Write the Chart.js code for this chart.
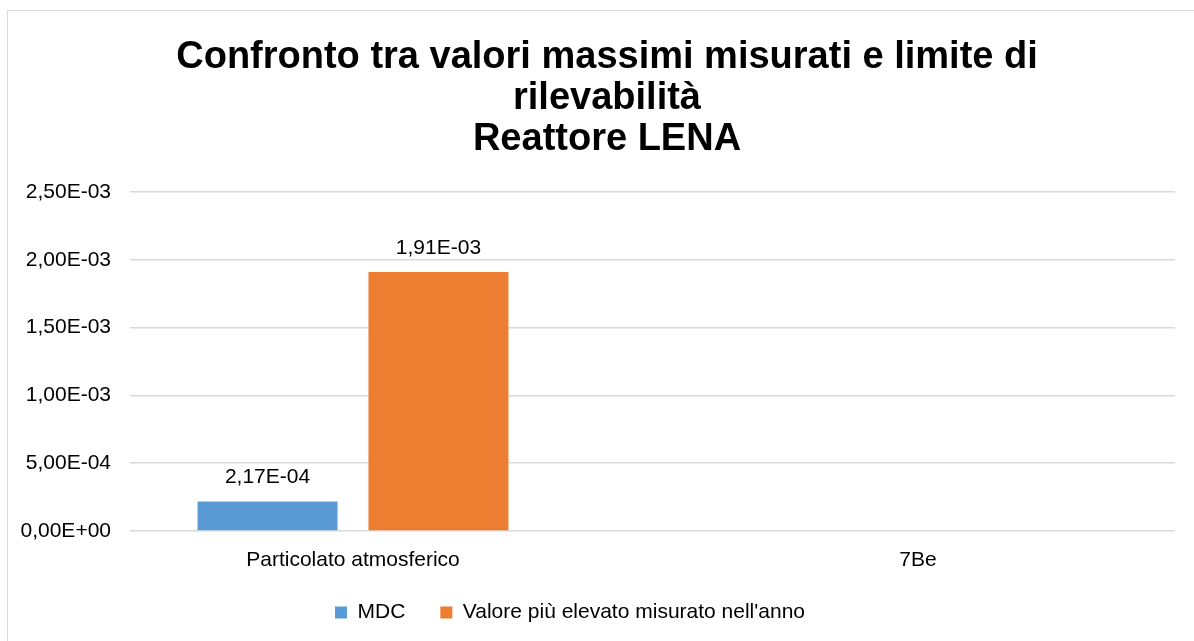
<!DOCTYPE html>
<html>
<head>
<meta charset="utf-8">
<script src="https://cdn.jsdelivr.net/npm/chart.js@4/dist/chart.umd.min.js"></script>
<style>
  html, body { margin: 0; padding: 0; background: #fff; overflow: hidden; }
  #frame { position: absolute; left: 7px; top: 10px; width: 1200px; height: 650px; border: 1px solid #d9d9d9; }
  #wrap { position: absolute; left: 0; top: 0; width: 1186px; height: 630px; }
</style>
</head>
<body>
<div id="frame"><div id="wrap"><canvas id="chart"></canvas></div></div>
<script>
const categories = ['Particolato atmosferico', '7Be'];
const seriesNames = ['MDC', "Valore più elevato misurato nell'anno"];
const mdcValues = [2.17e-4, null];
const maxValues = [1.91e-3, null];
const yTicks = [0, 5e-4, 1e-3, 1.5e-3, 2e-3, 2.5e-3];
const titleLines = ['Confronto tra valori massimi misurati e limite di', 'rilevabilità', 'Reattore LENA'];

const FONT = '"Liberation Sans", Arial, sans-serif';

function fmt(v) {
    const parts = Number(v).toExponential(2).split('e');
    let exp = parseInt(parts[1]);
    const sign = exp < 0 ? '-' : '+';
    exp = Math.abs(exp);
    return parts[0].replace('.', ',') + 'E' + sign + (exp < 10 ? '0' + exp : exp);
}

// title drawn by hand so it can sit a bit right of the legend, like the original
const titlePlugin = {
    id: 'titlePlugin',
    afterDraw(chart) {
        const ctx = chart.ctx;
        ctx.save();
        ctx.font = 'bold 38px ' + FONT;
        ctx.fillStyle = '#000';
        ctx.textAlign = 'center';
        ctx.textBaseline = 'middle';
        titleLines.forEach(function (line, i) {
            ctx.fillText(line, 599, 47 + i * 41);
        });
        ctx.restore();
    }
};

const valueLabels = {
    id: 'valueLabels',
    afterDatasetsDraw(chart) {
        const ctx = chart.ctx;
        ctx.save();
        ctx.font = '21px ' + FONT;
        ctx.fillStyle = '#000';
        ctx.textAlign = 'center';
        ctx.textBaseline = 'middle';
        chart.data.datasets.forEach(function (ds, i) {
            chart.getDatasetMeta(i).data.forEach(function (bar, j) {
                if (ds.data[j].y == null) return;
                ctx.fillText(fmt(ds.data[j].y), bar.x, bar.y - 24);
            });
        });
        ctx.restore();
    }
};

function points(values) {
    return categories.map(function (c, i) { return { x: i, y: values[i] }; });
}

const ctx = document.getElementById('chart').getContext('2d');
const chart = new Chart(ctx, {
    type: 'bar',
    data: {
        datasets: [{
            label: seriesNames[0],
            data: points(mdcValues),
            backgroundColor: '#5b9bd5'
        }, {
            label: seriesNames[1],
            data: points(maxValues),
            backgroundColor: '#ed7d31'
        }]
    },
    options: {
        responsive: true,
        maintainAspectRatio: false,
        animation: false,
        datasets: {
            bar: { categoryPercentage: 0.605, barPercentage: 0.819 }
        },
        layout: { padding: { left: -43, right: 19, top: 181, bottom: 8 } },
        plugins: {
            legend: {
                position: 'bottom',
                labels: {
                    color: '#000',
                    font: { family: FONT, size: 21 },
                    boxWidth: 12,
                    boxHeight: 12,
                    padding: 35
                }
            },
            tooltip: { enabled: false }
        },
        scales: {
            x: {
                type: 'linear',
                offset: false,
                min: -0.3947,
                max: 1.4549,
                afterFit(scale) { scale.height = 36; },
                afterBuildTicks(scale) { scale.ticks = categories.map(function (c, i) { return { value: i }; }); },
                grid: { display: false, drawTicks: false },
                border: { display: false },
                ticks: {
                    color: '#000',
                    padding: 17,
                    font: { family: FONT, size: 21 },
                    callback: function (v) { return categories[v]; }
                }
            },
            y: {
                min: 0,
                max: 2.5e-3,
                afterFit(scale) { scale.width = 165; },
                afterBuildTicks(scale) { scale.ticks = yTicks.map(function (v) { return { value: v }; }); },
                grid: { color: '#d9d9d9', lineWidth: 1.5, drawTicks: false },
                border: { display: false },
                ticks: {
                    color: '#000',
                    padding: 19,
                    font: { family: FONT, size: 21 },
                    callback: function (v) { return fmt(v); }
                }
            }
        }
    },
    plugins: [valueLabels, titlePlugin]
});
</script>
</body>
</html>
